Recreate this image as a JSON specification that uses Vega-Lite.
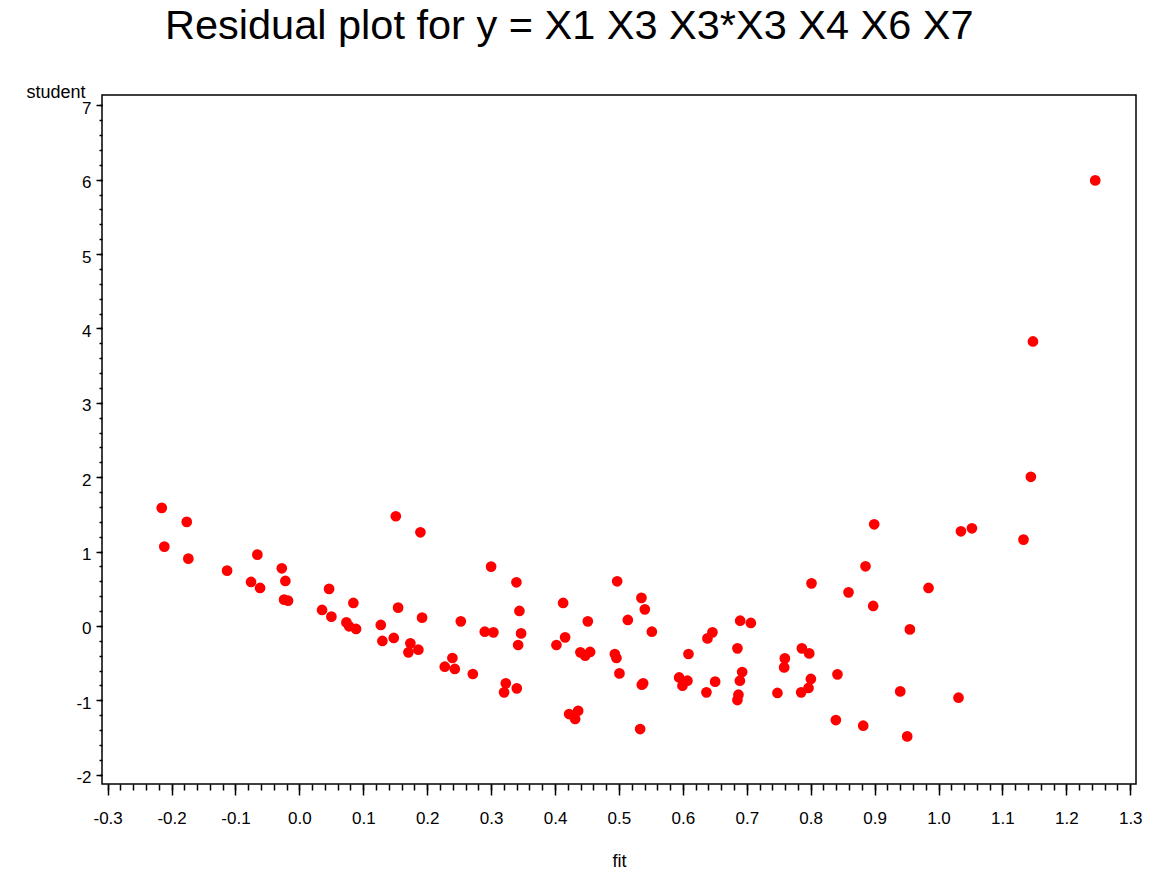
{
  "$schema": "https://vega.github.io/schema/vega-lite/v6.json",
  "autosize": {"type": "none"},
  "padding": {"left": 102, "top": 95, "right": 16, "bottom": 85},
  "width": 1034,
  "height": 689,
  "background": "white",
  "title": {
    "text": "Residual plot for y =  X1 X3 X3*X3 X4 X6 X7",
    "anchor": "start",
    "frame": "group",
    "dx": 63,
    "offset": 3,
    "baseline": "alphabetic",
    "font": "Liberation Sans",
    "fontSize": 41.5,
    "fontWeight": "normal",
    "color": "black"
  },
  "config": {
    "view": {"stroke": "black", "strokeWidth": 1.5},
    "axis": {"grid": false, "domain": false, "tickColor": "black", "tickWidth": 1.5, "labelColor": "black", "titleColor": "black", "labelFont": "Liberation Sans", "titleFont": "Liberation Sans", "labelFontSize": 17, "titleFontSize": 18, "titleFontWeight": "normal"}
  },
  "data": {"values": [
    {"fit": -0.2153, "student": 1.588},
    {"fit": -0.1762, "student": 1.399},
    {"fit": -0.2113, "student": 1.067},
    {"fit": -0.1737, "student": 0.905},
    {"fit": -0.1131, "student": 0.744},
    {"fit": -0.0657, "student": 0.959},
    {"fit": -0.0756, "student": 0.592},
    {"fit": -0.0615, "student": 0.511},
    {"fit": -0.0275, "student": 0.775},
    {"fit": -0.0219, "student": 0.605},
    {"fit": -0.0239, "student": 0.354},
    {"fit": -0.0177, "student": 0.34},
    {"fit": 0.1509, "student": 1.475},
    {"fit": 0.1894, "student": 1.259},
    {"fit": 0.0465, "student": 0.498},
    {"fit": 0.0845, "student": 0.309},
    {"fit": 0.1545, "student": 0.246},
    {"fit": 0.192, "student": 0.112},
    {"fit": 0.0355, "student": 0.215},
    {"fit": 0.0501, "student": 0.125},
    {"fit": 0.0736, "student": 0.048},
    {"fit": 0.0778, "student": -0.005},
    {"fit": 0.0887, "student": -0.04},
    {"fit": 0.1274, "student": 0.013},
    {"fit": 0.1299, "student": -0.202},
    {"fit": 0.1477, "student": -0.161},
    {"fit": 0.1737, "student": -0.234},
    {"fit": 0.1706, "student": -0.355},
    {"fit": 0.1862, "student": -0.319},
    {"fit": 0.2275, "student": -0.548},
    {"fit": 0.2394, "student": -0.431},
    {"fit": 0.2432, "student": -0.578},
    {"fit": 0.3, "student": 0.798},
    {"fit": 0.3396, "student": 0.587},
    {"fit": 0.2526, "student": 0.062},
    {"fit": 0.2901, "student": -0.077},
    {"fit": 0.3036, "student": -0.086},
    {"fit": 0.3443, "student": 0.202},
    {"fit": 0.3469, "student": -0.1},
    {"fit": 0.3423, "student": -0.256},
    {"fit": 0.2714, "student": -0.646},
    {"fit": 0.323, "student": -0.772},
    {"fit": 0.3203, "student": -0.893},
    {"fit": 0.3402, "student": -0.839},
    {"fit": 0.4127, "student": 0.309},
    {"fit": 0.4158, "student": -0.153},
    {"fit": 0.4022, "student": -0.256},
    {"fit": 0.4513, "student": 0.062},
    {"fit": 0.4397, "student": -0.355},
    {"fit": 0.4471, "student": -0.4},
    {"fit": 0.4549, "student": -0.35},
    {"fit": 0.4221, "student": -1.184},
    {"fit": 0.4362, "student": -1.14},
    {"fit": 0.4315, "student": -1.251},
    {"fit": 0.4972, "student": 0.6},
    {"fit": 0.5352, "student": 0.377},
    {"fit": 0.5405, "student": 0.223},
    {"fit": 0.5139, "student": 0.081},
    {"fit": 0.5515, "student": -0.077},
    {"fit": 0.4936, "student": -0.377},
    {"fit": 0.4961, "student": -0.431},
    {"fit": 0.5008, "student": -0.638},
    {"fit": 0.5379, "student": -0.772},
    {"fit": 0.5358, "student": -0.79},
    {"fit": 0.5332, "student": -1.386},
    {"fit": 0.6088, "student": -0.377},
    {"fit": 0.5942, "student": -0.692},
    {"fit": 0.5994, "student": -0.803},
    {"fit": 0.6072, "student": -0.736},
    {"fit": 0.6369, "student": -0.893},
    {"fit": 0.6505, "student": -0.749},
    {"fit": 0.6463, "student": -0.086},
    {"fit": 0.6385, "student": -0.167},
    {"fit": 0.6897, "student": 0.071},
    {"fit": 0.7064, "student": 0.04},
    {"fit": 0.6854, "student": -0.301},
    {"fit": 0.6928, "student": -0.619},
    {"fit": 0.6892, "student": -0.736},
    {"fit": 0.687, "student": -0.924},
    {"fit": 0.6854, "student": -0.996},
    {"fit": 0.748, "student": -0.901},
    {"fit": 0.7596, "student": -0.436},
    {"fit": 0.7585, "student": -0.557},
    {"fit": 0.8994, "student": 1.367},
    {"fit": 1.0351, "student": 1.273},
    {"fit": 1.0523, "student": 1.313},
    {"fit": 1.133, "student": 1.161},
    {"fit": 0.8858, "student": 0.802},
    {"fit": 0.8013, "student": 0.573},
    {"fit": 0.8592, "student": 0.452},
    {"fit": 0.9844, "student": 0.511},
    {"fit": 0.8978, "student": 0.269},
    {"fit": 0.9552, "student": -0.046},
    {"fit": 0.7862, "student": -0.301},
    {"fit": 0.7977, "student": -0.369},
    {"fit": 0.8003, "student": -0.713},
    {"fit": 0.7966, "student": -0.834},
    {"fit": 0.7851, "student": -0.893},
    {"fit": 0.8419, "student": -0.651},
    {"fit": 0.9401, "student": -0.88},
    {"fit": 1.0313, "student": -0.965},
    {"fit": 0.8394, "student": -1.265},
    {"fit": 0.8822, "student": -1.341},
    {"fit": 0.951, "student": -1.485},
    {"fit": 1.2452, "student": 5.991},
    {"fit": 1.1478, "student": 3.825},
    {"fit": 1.1445, "student": 2.006}
  ]},
  "resolve": {"axis": {"x": "independent", "y": "independent"}},
  "layer": [
    {
      "mark": {"type": "point", "opacity": 0},
      "encoding": {
        "x": {"field": "fit", "type": "quantitative", "scale": {"domain": [-0.3088, 1.309], "nice": false, "zero": false},
          "axis": {"orient": "bottom", "values": [-0.3, -0.28, -0.26, -0.24, -0.22, -0.2, -0.18, -0.16, -0.14, -0.12, -0.1, -0.08, -0.06, -0.04, -0.02, 0, 0.02, 0.04, 0.06, 0.08, 0.1, 0.12, 0.14, 0.16, 0.18, 0.2, 0.22, 0.24, 0.26, 0.28, 0.3, 0.32, 0.34, 0.36, 0.38, 0.4, 0.42, 0.44, 0.46, 0.48, 0.5, 0.52, 0.54, 0.56, 0.58, 0.6, 0.62, 0.64, 0.66, 0.68, 0.7, 0.72, 0.74, 0.76, 0.78, 0.8, 0.82, 0.84, 0.86, 0.88, 0.9, 0.92, 0.94, 0.96, 0.98, 1, 1.02, 1.04, 1.06, 1.08, 1.1, 1.12, 1.14, 1.16, 1.18, 1.2, 1.22, 1.24, 1.26, 1.28, 1.3], "labels": false, "title": null, "tickSize": 6}},
        "y": {"field": "student", "type": "quantitative", "scale": {"domain": [-2.125, 7.139], "nice": false, "zero": false},
          "axis": {"orient": "left", "values": [-2, -1.8, -1.6, -1.4, -1.2, -1, -0.8, -0.6, -0.4, -0.2, 0, 0.2, 0.4, 0.6, 0.8, 1, 1.2, 1.4, 1.6, 1.8, 2, 2.2, 2.4, 2.6, 2.8, 3, 3.2, 3.4, 3.6, 3.8, 4, 4.2, 4.4, 4.6, 4.8, 5, 5.2, 5.4, 5.6, 5.8, 6, 6.2, 6.4, 6.6, 6.8, 7], "labels": false, "title": null, "tickSize": 3}}
      }
    },
    {
      "mark": {"type": "circle", "color": "#ff0000", "opacity": 1, "size": 115},
      "encoding": {
        "x": {"field": "fit", "type": "quantitative",
          "axis": {"orient": "bottom", "values": [-0.3, -0.2, -0.1, 0, 0.1, 0.2, 0.3, 0.4, 0.5, 0.6, 0.7, 0.8, 0.9, 1, 1.1, 1.2, 1.3], "labelExpr": "replace(format(datum.value, '.1f'), '\u2212', '-')", "tickSize": 11, "labelPadding": 15, "labelFlush": false, "labelOverlap": false, "title": "fit", "titleY": 82, "titleBaseline": "alphabetic"}},
        "y": {"field": "student", "type": "quantitative",
          "axis": {"orient": "left", "values": [-2, -1, 0, 1, 2, 3, 4, 5, 6, 7], "labelExpr": "replace(format(datum.value, 'd'), '\u2212', '-')", "tickSize": 6, "labelPadding": 5, "labelOffset": 3, "labelFlush": false, "labelOverlap": false, "title": "student", "titleAngle": 0, "titleAlign": "right", "titleBaseline": "alphabetic", "titleX": -17, "titleY": 2}}
      }
    }
  ]
}
